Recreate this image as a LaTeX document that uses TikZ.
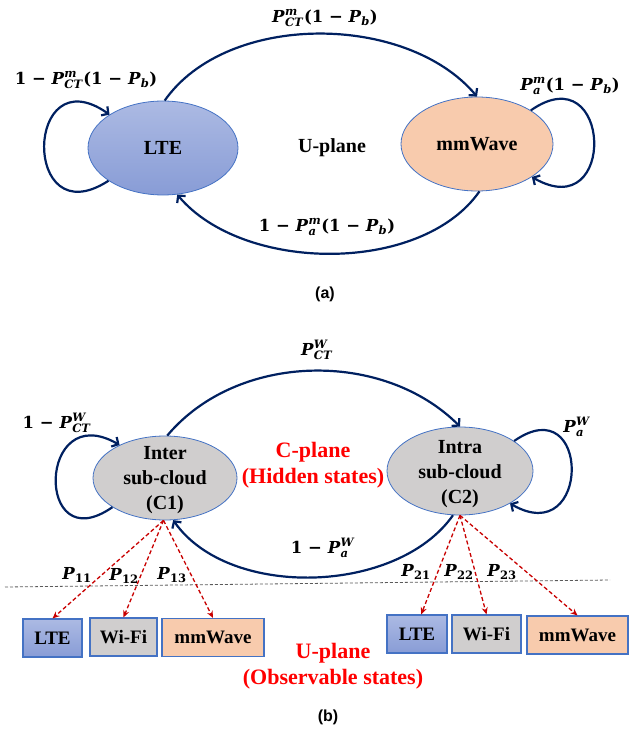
\documentclass[tikz,border=0pt]{standalone}
\usepackage{amsmath}
\usepackage{fontspec}
\setmainfont{Liberation Serif}
\newfontfamily\arialfont{Liberation Sans}
\newfontfamily\labfont{DejaVu Serif}
\usetikzlibrary{arrows.meta,shapes.geometric}
\definecolor{navy}{RGB}{0,32,96}
\definecolor{edgeblue}{RGB}{68,114,196}
\definecolor{lteTop}{RGB}{172,186,227}
\definecolor{lteBot}{RGB}{136,156,214}
\definecolor{mmfill}{RGB}{248,203,173}
\definecolor{cgray}{RGB}{208,206,206}
\definecolor{obsred}{RGB}{200,0,0}
\definecolor{brightred}{RGB}{255,0,0}
\definecolor{sepgray}{RGB}{90,90,90}
\newcommand\bi[1]{\textbf{\textit{#1}}}
\newcommand\mb[1]{\textbf{#1}}
\begin{document}
\begin{tikzpicture}[x=1pt,y=1pt,
  statenode/.style={ellipse, draw=edgeblue, line width=0.8pt, inner sep=0pt},
  ltefill/.style={top color=lteTop, bottom color=lteBot},
  nav/.style={draw=navy, line width=2.2pt, -{Straight Barb[length=5pt,width=11pt]}},
  obs/.style={draw=obsred, line width=1.3pt, dash pattern=on 4pt off 2.5pt, -{Stealth[length=7pt,width=6pt]}},
  lbl/.style={font=\labfont\fontsize{16.5}{20}\selectfont, inner sep=0pt},
  ntext/.style={font=\fontsize{20}{25}\selectfont\bfseries, align=center, inner sep=0pt},
  redtext/.style={font=\fontsize{22}{26}\selectfont\bfseries, text=brightred, align=center, inner sep=0pt},
  boxnode/.style={draw=edgeblue, line width=1.1pt, minimum height=38pt, inner sep=0pt, font=\fontsize{19}{22}\selectfont\bfseries},
  caption/.style={font=\arialfont\fontsize{16}{19}\selectfont\bfseries, inner sep=0pt}
]
\useasboundingbox (0,0) rectangle (635,-730);

% ---------- (a) ----------
\node[statenode, ltefill, minimum width=150pt, minimum height=94pt] (lte) at (163,-148) {};
\node[ntext] (ltet) at (lte) {LTE};
\node[statenode, fill=mmfill, minimum width=152pt, minimum height=94pt] (mm) at (477,-144) {};
\node[ntext] (mmt) at (mm) {mmWave};
\node[ntext] (uplanea) at (332,-148) {U-plane};

\draw[nav] (lte.88) .. controls +(55:109pt) and +(130:109pt) .. (mm.90);
\draw[nav] (mm.-87) .. controls +(-125:102pt) and +(-50:102pt) .. (lte.-73);
\draw[nav] (lte.211) .. controls +(213:104pt) and +(145:104pt) .. (lte.148);
\draw[nav] (mm.32) .. controls +(35:99pt) and +(-30:99pt) .. (mm.-31);

\node[lbl] (la1) at (325,-18) {$\bi{P}^{\bi{m}}_{\bi{CT}}$\mb{(1 − }$\bi{P}_{\bi{b}}$\mb{)}};
\node[lbl] (la2) at (86,-80) {\mb{1 − }$\bi{P}^{\bi{m}}_{\bi{CT}}$\mb{(1 − }$\bi{P}_{\bi{b}}$\mb{)}};
\node[lbl] (la3) at (570,-86) {$\bi{P}^{\bi{m}}_{\bi{a}}$\mb{(1 − }$\bi{P}_{\bi{b}}$\mb{)}};
\node[lbl] (la4) at (327,-227) {\mb{1 − }$\bi{P}^{\bi{m}}_{\bi{a}}$\mb{(1 − }$\bi{P}_{\bi{b}}$\mb{)}};
\node[caption] (capa) at (325,-294) {(a)};

% ---------- (b) ----------
\node[statenode, fill=cgray, minimum width=144pt, minimum height=84pt] (inter) at (165,-478) {};
\node[ntext] (intert) at (165,-480) {Inter\\sub-cloud\\(C1)};
\node[statenode, fill=cgray, minimum width=146pt, minimum height=88pt] (intra) at (460,-471) {};
\node[ntext] (intrat) at (460,-474) {Intra\\sub-cloud\\(C2)};
\node[redtext] (cplane) at (313,-465) {C-plane\\(Hidden states)};

\draw[nav] (inter.87) .. controls +(50:109pt) and +(135:109pt) .. (intra.90);
\draw[nav] (intra.-99) .. controls +(-125:97pt) and +(-55:97pt) .. (inter.-79);
\draw[nav] (inter.209) .. controls +(215:95pt) and +(150:95pt) .. (inter.144);
\draw[nav] (intra.29) .. controls +(35:94pt) and +(-30:94pt) .. (intra.-33);

\node[lbl] (lb1) at (317,-350) {$\bi{P}^{\bi{W}}_{\bi{CT}}$};
\node[lbl] (lb2) at (57,-423) {\mb{1 − }$\bi{P}^{\bi{W}}_{\bi{CT}}$};
\node[lbl] (lb3) at (577,-427) {$\bi{P}^{\bi{W}}_{\bi{a}}$};
\node[lbl] (lb4) at (323,-548) {\mb{1 − }$\bi{P}^{\bi{W}}_{\bi{a}}$};

\draw[sepgray, line width=0.8pt, dash pattern=on 3pt off 2pt] (5,-587) -- (610,-580);

\node[boxnode, ltefill, minimum width=59pt] (b1l) at (52.5,-638) {LTE};
\node[boxnode, fill=cgray, minimum width=67pt] (b1w) at (123.5,-637) {Wi-Fi};
\node[boxnode, fill=mmfill, minimum width=102pt] (b1m) at (213,-637.5) {mmWave};
\node[boxnode, ltefill, minimum width=60pt] (b2l) at (417,-634) {LTE};
\node[boxnode, fill=cgray, minimum width=69pt] (b2w) at (486.5,-634) {Wi-Fi};
\node[boxnode, fill=mmfill, minimum width=101pt] (b2m) at (577.5,-635) {mmWave};

\draw[obs] (inter.-92) -- (b1l.north);
\draw[obs] (inter.-92) -- (b1w.north);
\draw[obs] (inter.-92) -- (b1m.north);
\draw[obs] (intra.-90) -- (b2l.78);
\draw[obs] (intra.-90) -- (b2w.north);
\draw[obs] (intra.-90) -- (b2m.north);

\node[lbl] (p11) at (77,-575) {$\bi{P}_{\mb{11}}$};
\node[lbl] (p12) at (124,-576) {$\bi{P}_{\mb{12}}$};
\node[lbl] (p13) at (172,-575) {$\bi{P}_{\mb{13}}$};
\node[lbl] (p21) at (416,-572) {$\bi{P}_{\mb{21}}$};
\node[lbl] (p22) at (459,-572) {$\bi{P}_{\mb{22}}$};
\node[lbl] (p23) at (502,-572) {$\bi{P}_{\mb{23}}$};

\node[redtext] (uplaneb) at (333,-666) {U-plane\\(Observable states)};
\node[caption] (capb) at (328,-717) {(b)};
\end{tikzpicture}
\end{document}
